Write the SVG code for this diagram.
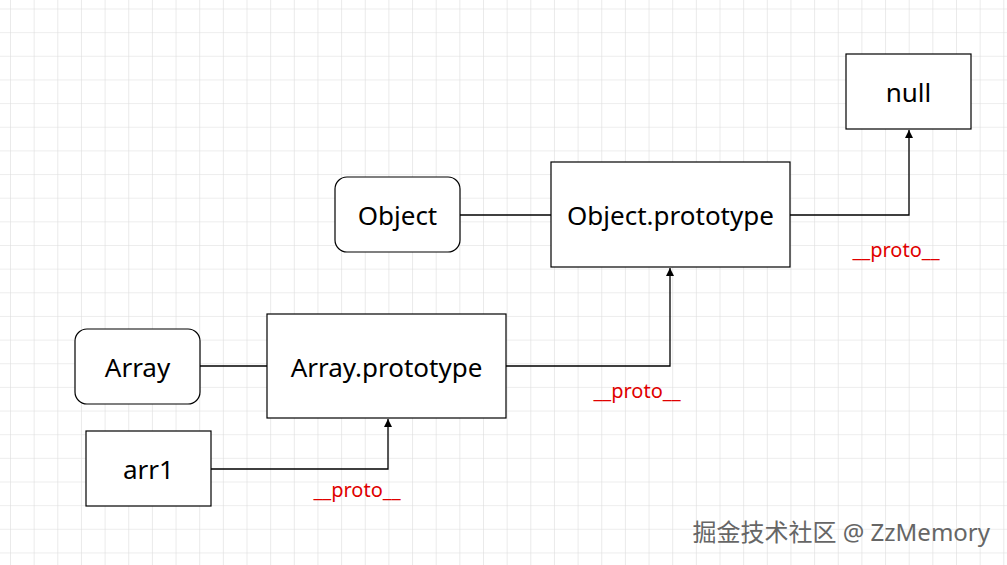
<svg xmlns="http://www.w3.org/2000/svg" width="1007" height="565" viewBox="0 0 1007 565">
<defs>
<pattern id="g" x="10" y="8.5" width="23.65" height="23.65" patternUnits="userSpaceOnUse">
<path d="M0 0V23.65M0 0H23.65" stroke="#dcdcdc" stroke-width="1.2" fill="none"/>
</pattern>
<marker id="a" viewBox="0 0 10 10" refX="10" refY="5" markerWidth="10" markerHeight="8" orient="auto" markerUnits="userSpaceOnUse">
<path d="M0 0L10 5L0 10Z" fill="#000"/>
</marker>
<style>
.n{fill:#fff;stroke:#000;stroke-width:1.2}
.t{font-family:"Noto Sans","DejaVu Sans",sans-serif;font-size:26px;fill:#000;text-anchor:middle;dominant-baseline:central}
.c{fill:none;stroke:#000;stroke-width:1.3}
.p{font-family:"Noto Sans",sans-serif;font-size:20px;fill:#e00000;text-anchor:middle}
</style>
</defs>
<rect width="1007" height="565" fill="#fff"/>
<rect width="1007" height="565" fill="url(#g)"/>
<g id="connectors">
<path class="c" d="M460 215H551"/>
<path class="c" d="M790 215H909V130" marker-end="url(#a)"/>
<path class="c" d="M200 366H267"/>
<path class="c" d="M506 366H670V268" marker-end="url(#a)"/>
<path class="c" d="M211 469H388V419" marker-end="url(#a)"/>
<text class="p" x="896" y="257">__proto__</text>
<text class="p" x="637" y="398">__proto__</text>
<text class="p" x="357" y="497">__proto__</text>
</g>
<g id="null"><rect class="n" x="846" y="54" width="125" height="75"/><text class="t" x="908.5" y="92">null</text></g>
<g id="object"><rect class="n" x="335" y="177" width="125" height="75" rx="12"/><text class="t" x="397.5" y="215">Object</text></g>
<g id="objproto"><rect class="n" x="551" y="162" width="239" height="105"/><text class="t" x="670.5" y="215">Object.prototype</text></g>
<g id="array"><rect class="n" x="75" y="329" width="125" height="75" rx="12"/><text class="t" x="137.5" y="367">Array</text></g>
<g id="arrproto"><rect class="n" x="267" y="314" width="239" height="104"/><text class="t" x="386.5" y="367">Array.prototype</text></g>
<g id="arr1"><rect class="n" x="86" y="431" width="125" height="75"/><text class="t" x="148.5" y="469">arr1</text></g>
<text x="990" y="541" text-anchor="end" font-family="'Noto Sans','Noto Sans CJK SC',sans-serif" font-size="24" fill="#666">掘金技术社区 @ ZzMemory</text>
</svg>
